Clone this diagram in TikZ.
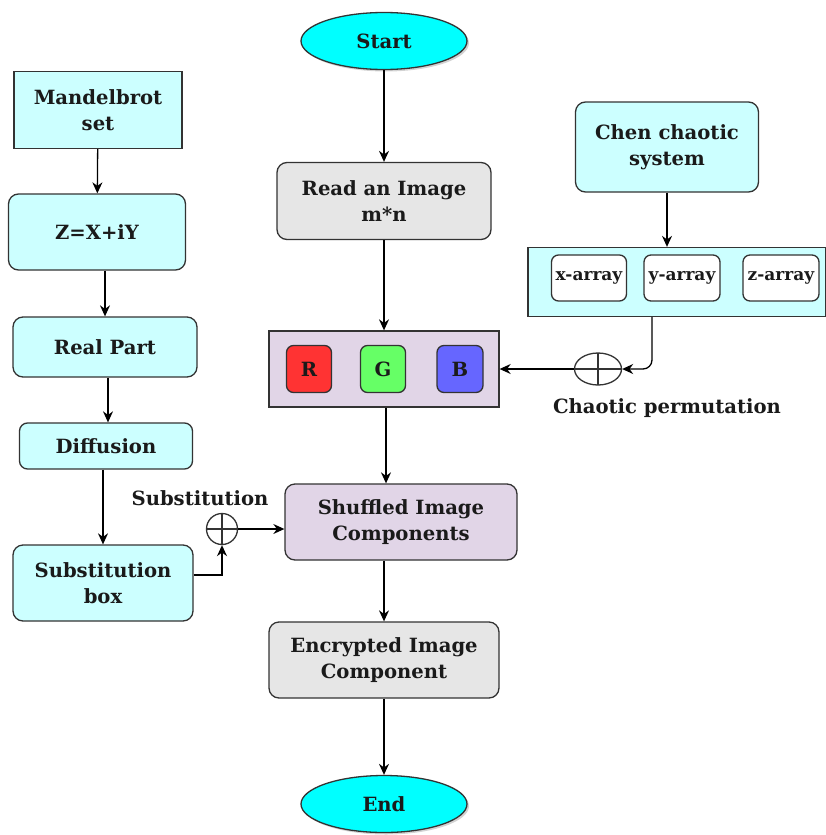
\documentclass[tikz,border=0pt]{standalone}
\usepackage{fontspec}
\setmainfont{DejaVu Serif}
\usetikzlibrary{arrows.meta,shapes.geometric,shadows}
\definecolor{cyanA}{HTML}{00FFFF}
\definecolor{cyanL}{HTML}{CCFFFF}
\definecolor{grayA}{HTML}{E6E6E6}
\definecolor{lavA}{HTML}{E1D5E7}
\definecolor{redA}{HTML}{FF3333}
\definecolor{greenA}{HTML}{66FF66}
\definecolor{blueA}{HTML}{6666FF}
\definecolor{linec}{HTML}{333333}
\definecolor{txt}{HTML}{1A1A1A}
\begin{document}
\begin{tikzpicture}[x=1pt,y=-1pt,
  font={\fontsize{19.6}{25.5}\selectfont\bfseries},
  box/.style={draw=linec, line width=1.3pt, align=center, inner sep=0pt, text=txt},
  rbox/.style={box, rounded corners=10pt},
  cell/.style={box, rounded corners=7pt},
  term/.style={box, ellipse, fill=cyanA, minimum width=166pt, minimum height=57pt,
     drop shadow={opacity=0.35, shadow xshift=2pt, shadow yshift=-2pt}},
  xorop/.style={draw=linec, line width=1.3pt, inner sep=0pt,
     path picture={\draw[linec, line width=1.3pt] (path picture bounding box.north) -- (path picture bounding box.south)
        (path picture bounding box.west) -- (path picture bounding box.east);}},
  arr/.style={draw=black, line width=1.3pt, -{Stealth[length=11pt,width=10pt]}},
  lbl/.style={text=txt, inner sep=0pt}
]
\useasboundingbox (0,0) rectangle (825,835);

% centre column
\node[term] (start) at (384,41) {Start};
\node[rbox, fill=grayA, minimum width=214pt, minimum height=77pt] (read) at (384,201) {Read an Image\\m*n};
\node[box, fill=lavA, minimum width=230pt, minimum height=76pt] (rgb) at (384,369) {};
\node[cell, fill=redA, minimum width=45pt, minimum height=47pt] (r) at (309,369) {R};
\node[cell, fill=greenA, minimum width=45pt, minimum height=47pt] (g) at (383,369) {G};
\node[cell, fill=blueA, minimum width=46pt, minimum height=47pt] (b) at (460,369) {B};
\node[rbox, fill=lavA, minimum width=232pt, minimum height=76pt] (shuf) at (401,522) {Shuffled Image\\Components};
\node[rbox, fill=grayA, minimum width=230pt, minimum height=76pt] (enc) at (384,660) {Encrypted Image\\Component};
\node[term] (end) at (384,804) {End};

% left column
\node[box, fill=cyanL, minimum width=168pt, minimum height=77pt] (mand) at (98,110) {Mandelbrot\\set};
\node[rbox, fill=cyanL, minimum width=177pt, minimum height=76pt] (z) at (97,232) {Z=X+iY};
\node[rbox, fill=cyanL, minimum width=184pt, minimum height=60pt] (real) at (105,347) {Real Part};
\node[rbox, fill=cyanL, minimum width=173pt, minimum height=46pt, rounded corners=8pt] (diff) at (106,446) {Diffusion};
\node[rbox, fill=cyanL, minimum width=180pt, minimum height=76pt] (sbox) at (103,583) {Substitution\\box};
\node[xorop, circle, minimum size=31pt] (op1) at (222,529) {};
\node[lbl] (sublbl) at (200,498) {Substitution};

% right column
\node[rbox, fill=cyanL, minimum width=183pt, minimum height=90pt] (chen) at (667,147) {Chen chaotic\\system};
\node[box, fill=cyanL, minimum width=298pt, minimum height=69pt] (arrbox) at (677,282) {};
\node[cell, fill=white, minimum width=75pt, minimum height=46pt, font={\fontsize{17}{20}\selectfont\bfseries}] (xa) at (589,278) {x-array};
\node[cell, fill=white, minimum width=76pt, minimum height=46pt, font={\fontsize{17}{20}\selectfont\bfseries}] (ya) at (682,278) {y-array};
\node[cell, fill=white, minimum width=76pt, minimum height=46pt, font={\fontsize{17}{20}\selectfont\bfseries}] (za) at (781,278) {z-array};
\node[xorop, ellipse, minimum width=47pt, minimum height=32pt] (op2) at (598,369) {};
\node[lbl] (chlbl) at (667,408) {Chaotic permutation};

% connectors
\draw[arr] (start) -- (read);
\draw[arr] (read) -- (rgb);
\draw[arr] ([xshift=2pt]rgb.south) -- ([xshift=2pt]rgb.south |- shuf.north);
\draw[arr] (enc.north |- shuf.south) -- (enc.north);
\draw[arr] (enc) -- (end);

\draw[arr] (mand) -- (z);
\draw[arr] (real.north |- z.south) -- (real.north);
\draw[arr] ([xshift=2pt]diff.north |- real.south) -- ([xshift=2pt]diff.north);
\draw[arr] (sbox.north |- diff.south) -- (sbox.north);
\draw[arr] ([yshift=8pt]sbox.east) -| (op1.south);
\draw[arr] (op1.east) -- (op1.east -| shuf.west);

\draw[arr] (chen) -- (chen |- arrbox.north);
\draw[arr, rounded corners=9pt] ([xshift=-25pt]arrbox.south) |- (op2.east);
\draw[arr] (op2.west) -- (op2.west -| rgb.east);
\end{tikzpicture}
\end{document}
